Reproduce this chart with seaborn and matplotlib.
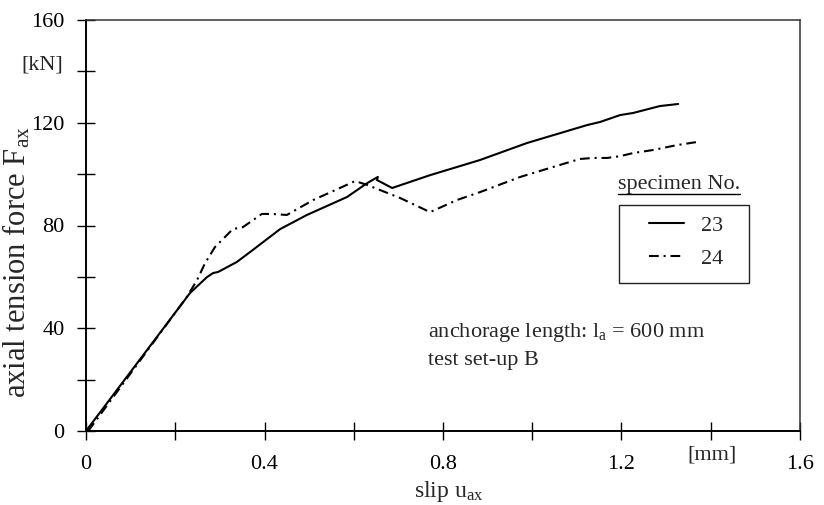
import matplotlib
matplotlib.use("Agg")
import matplotlib.pyplot as plt
import numpy as np
import pandas as pd
import seaborn as sns
from matplotlib.patches import Rectangle

# ---- data ----
slip_23 = [0.0, 0.233, 0.271, 0.285, 0.296, 0.338, 0.374, 0.435, 0.495, 0.585,
           0.630, 0.654, 0.652, 0.686, 0.771, 0.809, 0.883, 0.988, 1.123, 1.152,
           1.197, 1.226, 1.286, 1.327]
force_23 = [0.0, 53.7, 59.9, 61.5, 61.9, 65.8, 70.5, 78.6, 84.1, 91.1,
            96.5, 98.9, 97.7, 94.6, 99.6, 101.6, 105.5, 112.1, 119.1, 120.3,
            123.0, 123.8, 126.5, 127.3]

slip_24 = [0.005, 0.226, 0.249, 0.267, 0.289, 0.329, 0.352, 0.394, 0.417, 0.450,
           0.509, 0.569, 0.603, 0.630, 0.704, 0.771, 0.831, 0.883, 0.973, 1.047,
           1.107, 1.136, 1.168, 1.197, 1.226, 1.271, 1.324, 1.369]
force_24 = [0.0, 52.2, 58.8, 65.4, 71.6, 78.6, 79.4, 84.5, 84.5, 84.1,
            89.9, 94.6, 97.3, 95.8, 90.7, 85.2, 89.9, 93.0, 98.9, 102.8,
            105.9, 106.3, 106.3, 107.0, 108.2, 109.4, 111.3, 112.5]

specimens = ["23", "24"]

x_ticks = [0.0, 0.2, 0.4, 0.6, 0.8, 1.0, 1.2, 1.4, 1.6]
x_tick_labels = ["0", "", "0.4", "", "0.8", "", "1.2", "", "1.6"]
y_ticks = [0, 20, 40, 60, 80, 100, 120, 140, 160]
y_tick_labels = ["0", "", "40", "", "80", "", "120", "", "160"]

# ---- style ----
sns.set_style("white")
plt.rcParams["font.family"] = ["Liberation Serif", "DejaVu Serif"]
plt.rcParams["mathtext.fontset"] = "custom"
plt.rcParams["mathtext.rm"] = "Liberation Serif"
plt.rcParams["mathtext.it"] = "Liberation Serif:italic"
plt.rcParams["lines.scale_dashes"] = False

FS = 16

fig = plt.figure(figsize=(8.24, 5.05), dpi=100)
ax = fig.add_axes([86 / 824, 1 - 431 / 505, 714 / 824, 411 / 505])

df = pd.DataFrame({
    "slip": slip_23 + slip_24,
    "force": force_23 + force_24,
    "specimen": [specimens[0]] * len(slip_23) + [specimens[1]] * len(slip_24),
})

sns.lineplot(data=df, x="slip", y="force", hue="specimen", style="specimen",
             palette=["black", "black"],
             dashes={specimens[0]: "", specimens[1]: (7, 3.5, 1.5, 3.5)},
             sort=False, estimator=None, linewidth=1.5, legend=False, ax=ax)

ax.set_xlim(0, 1.6)
ax.set_ylim(0, 160)
ax.set_xticks(x_ticks)
ax.set_xticklabels(x_tick_labels)
ax.set_yticks(y_ticks)
ax.set_yticklabels(y_tick_labels)
ax.tick_params(axis="both", which="major", direction="inout", length=13,
               width=1.0, color="black", labelsize=FS, labelcolor="black",
               bottom=True, left=True, top=False, right=False)
ax.tick_params(axis="x", pad=11)
ax.tick_params(axis="y", pad=9)

for side in ["left", "bottom"]:
    ax.spines[side].set_color("black")
    ax.spines[side].set_linewidth(1.4)
for side in ["top", "right"]:
    ax.spines[side].set_color("#333333")
    ax.spines[side].set_linewidth(1.1)

ax.set_xlabel("slip u$_{\\mathrm{ax}}$", fontsize=17, va="center")
ax.xaxis.set_label_coords((449 - 86) / 714, (431 - 492) / 411)
ax.set_ylabel("axial tension force F$_{\\mathrm{ax}}$", fontsize=22, va="center")
ax.yaxis.set_label_coords((17 - 86) / 714, (431 - 262) / 411)

ax.text((42 - 86) / 714, (431 - 65) / 411, "[kN]", transform=ax.transAxes,
        ha="center", va="center", fontsize=FS)
ax.text((712 - 86) / 714, (431 - 455) / 411, "[mm]", transform=ax.transAxes,
        ha="center", va="center", fontsize=FS, clip_on=False)

# annotation
ax.text(0.766, 38.5, "anchorage length: l$_{\\mathrm{a}}$ = 600 mm", ha="left",
        va="center", fontsize=FS)
ax.text(0.766, 27.6, "test set-up B", ha="left", va="center", fontsize=FS)

# legend title (underlined) and box
title = ax.text((618 - 86) / 714, (431 - 185) / 411, "specimen No.",
                transform=ax.transAxes, ha="left", va="center", fontsize=FS)
ax.add_patch(Rectangle(((619 - 86) / 714, (431 - 283) / 411), 130 / 714, 78 / 411,
                       transform=ax.transAxes, fill=False, edgecolor="#222222",
                       linewidth=1.0, zorder=5))
handles = ax.get_lines()[:2]
leg = ax.legend(handles, specimens, loc="center",
                bbox_to_anchor=((686 - 86) / 714, (431 - 242) / 411),
                frameon=False, fontsize=FS, handlelength=1.58,
                handletextpad=0.75, labelspacing=0.55, borderpad=0.2)

fig.canvas.draw()
r = fig.canvas.get_renderer()
bb = title.get_window_extent(r).transformed(ax.transAxes.inverted())
ax.plot([bb.x0, bb.x1], [bb.y0 + 0.002, bb.y0 + 0.002], transform=ax.transAxes,
        color="black", linewidth=1.0, clip_on=False)

fig.savefig("out.png", dpi=100)
